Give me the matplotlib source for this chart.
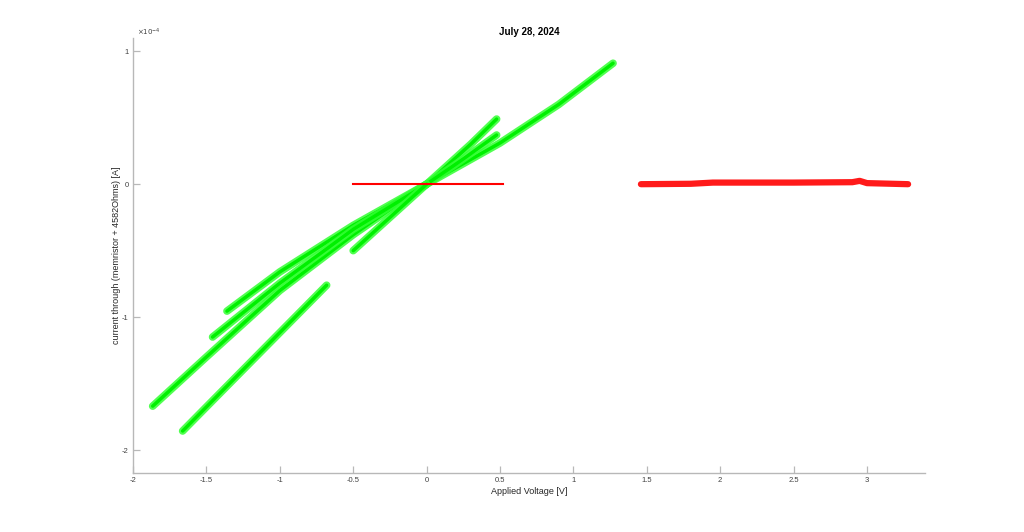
import numpy as np
import matplotlib.pyplot as plt
from matplotlib.ticker import FuncFormatter

plt.rcParams['font.family'] = ['Liberation Sans', 'DejaVu Sans']
plt.rcParams['axes.unicode_minus'] = False

# green sweeps (V, current in units of 1e-4 A)
g1_v = [-1.36, -1.0, -0.5, 0.0, 0.5, 0.9, 1.27]
g1_i = [-0.955, -0.66, -0.31, 0.0, 0.31, 0.60, 0.91]
g2_v = [-1.866, -1.5, -1.0, -0.5, 0.0, 0.3, 0.477]
g2_i = [-1.67, -1.30, -0.80, -0.38, 0.0, 0.30, 0.49]
g3_v = [-1.458, -1.0, -0.5, 0.0, 0.25, 0.477]
g3_i = [-1.15, -0.745, -0.34, 0.0, 0.19, 0.37]
g4_v = [-1.662, -1.2, -0.681]
g4_i = [-1.857, -1.34, -0.76]
g5_v = [-0.50, -0.3, 0.0]
g5_i = [-0.50, -0.30, 0.0]

# red sweeps
r1_v = [-0.50, 0.0, 0.52]
r1_i = [0.0, 0.0, 0.0]
r2_v = [1.46, 1.8, 1.95, 2.5, 2.9, 2.95, 3.0, 3.28]
r2_i = [0.0, 0.003, 0.012, 0.012, 0.015, 0.025, 0.008, 0.0]

green_v = [g1_v, g2_v, g3_v, g4_v, g5_v]
green_i = [g1_i, g2_i, g3_i, g4_i, g5_i]

fig = plt.figure(figsize=(10.24, 5.32), dpi=100)
ax = fig.add_axes([0.1299, 0.1109, 0.7734, 0.8177])

for v, i in zip(green_v, green_i):
    ax.plot(v, np.array(i) * 1e-4, color='#33ff33', lw=5.5, alpha=0.85,
            solid_capstyle='round', solid_joinstyle='round')
    ax.plot(v, np.array(i) * 1e-4, color='#00f000', lw=2.5,
            solid_capstyle='round', solid_joinstyle='round')

ax.plot(r1_v, np.array(r1_i) * 1e-4, color='red', lw=1.5)
ax.plot(r2_v, np.array(r2_i) * 1e-4, color='#ff1a1a', lw=4.5,
        solid_capstyle='round', solid_joinstyle='round')

ax.set_xlim(-2, 3.395)
ax.set_ylim(-2.173e-4, 1.1e-4)
ax.set_xticks(np.arange(-2, 3.01, 0.5))
ax.set_yticks([-2e-4, -1e-4, 0, 1e-4])
ax.xaxis.set_major_formatter(FuncFormatter(lambda x, p: '%g' % x))
ax.yaxis.set_major_formatter(FuncFormatter(lambda y, p: '%g' % round(y * 1e4, 6)))
ax.text(0.005, 1.0, r'$\times10^{-4}$', transform=ax.transAxes, fontsize=5,
        color='#404040', ha='left', va='bottom')

for s in ['top', 'right']:
    ax.spines[s].set_visible(False)
for s in ['left', 'bottom']:
    ax.spines[s].set_color('#b8b8b8')
    ax.spines[s].set_linewidth(1.0)
ax.tick_params(direction='in', length=5, width=0.9, color='#b8b8b8',
               labelsize=5.5, labelcolor='#404040', pad=3)

ax.set_title('July 28, 2024', fontsize=7, fontweight='bold', pad=2)
ax.set_xlabel('Applied Voltage [V]', fontsize=6.5, color='#262626', labelpad=2)
ax.set_ylabel('current through (memristor + 4582Ohms) [A]', fontsize=6.5,
              color='#262626', labelpad=1)

fig.savefig('out.png', dpi=100)
